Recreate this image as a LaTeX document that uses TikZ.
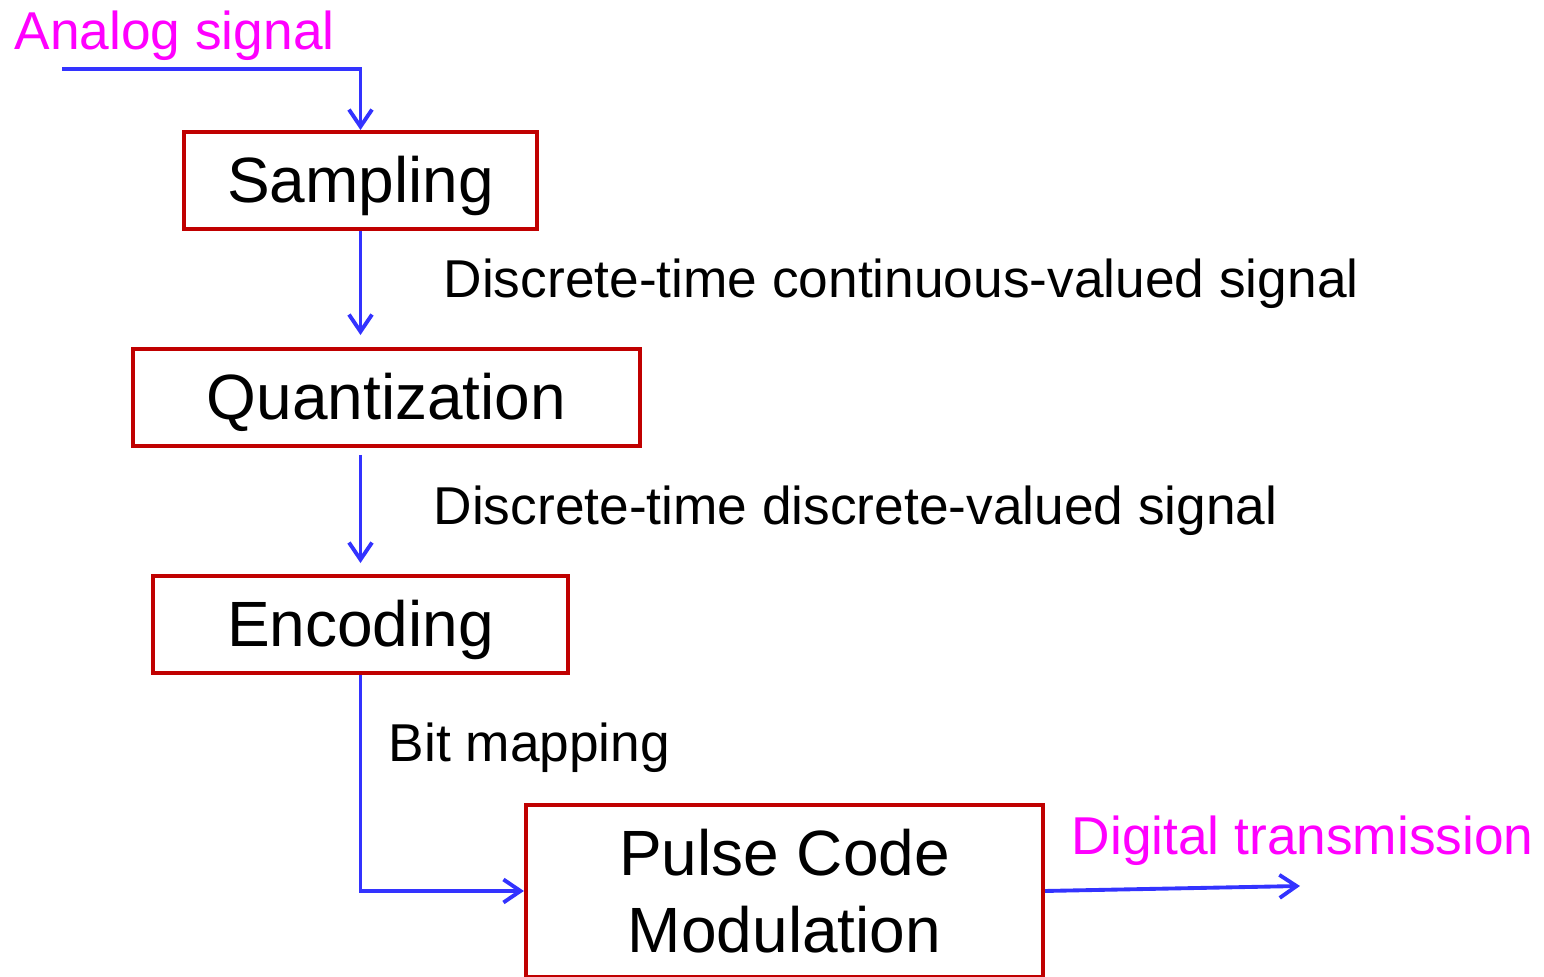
\documentclass[tikz,border=0pt]{standalone}
\usepackage{fontspec}
\setmainfont{Liberation Sans}
\usetikzlibrary{arrows.meta}

\definecolor{boxred}{RGB}{192,0,0}
\definecolor{lineblue}{RGB}{51,51,255}
\definecolor{labelpink}{RGB}{255,0,255}

\begin{document}
\begin{tikzpicture}[x=0.01cm,y=-0.01cm]
\tikzset{block/.style = {shape=rectangle,draw=boxred,line width=1.1pt,
    font=\fontsize{18.2}{21.9}\selectfont,align=center}}
\tikzset{oneline/.style = {block,inner ysep=0.02cm,text height=0.66cm,text depth=0.21cm}}
\tikzset{edge/.style = {draw=lineblue,line width=1.1pt,
    -{Straight Barb[length=0.17cm,width=0.23cm,line width=1.1pt]}}}
\tikzset{note/.style = {anchor=base west,inner sep=0pt,
    font=\fontsize{15.15}{17}\selectfont}}
\tikzset{signal/.style = {note,text=labelpink}}

\useasboundingbox (0,0) rectangle (1544,977);

\node[oneline,minimum width=3.53cm,minimum height=0.97cm] (samp) at (360.5,180.5) {Sampling};
\node[oneline,minimum width=5.07cm,minimum height=0.97cm] (quant) at (386.5,397.5) {Quantization};
\node[oneline,minimum width=4.15cm,minimum height=0.97cm] (enc) at (360.5,624.5) {Encoding};
\node[block,minimum width=5.17cm,minimum height=1.72cm] (pcm) at (784.5,891) {Pulse Code\\Modulation};

\node[signal] (analog) at (14,50) {Analog signal};
\node[signal] (digital) at (1071,855) {Digital transmission};
\node[note] (dtcv) at (443,298) {Discrete-time continuous-valued signal};
\node[note] (dtdv) at (433,525) {Discrete-time discrete-valued signal};
\node[note] (bits) at (388,762) {Bit mapping};

\coordinate (in) at (62,69);
\coordinate (out) at (1300,886);

\draw[edge] (in) -| (samp.north);
\draw[edge,shorten >=0.12cm] (samp.south) -- (samp.south |- quant.north);
\draw[edge,shorten <=0.07cm,shorten >=0.11cm] (enc.north |- quant.south) -- (enc.north);
\draw[edge] (enc.south) |- (pcm.west);
\draw[edge] (pcm.east) -- (out);
\end{tikzpicture}
\end{document}
